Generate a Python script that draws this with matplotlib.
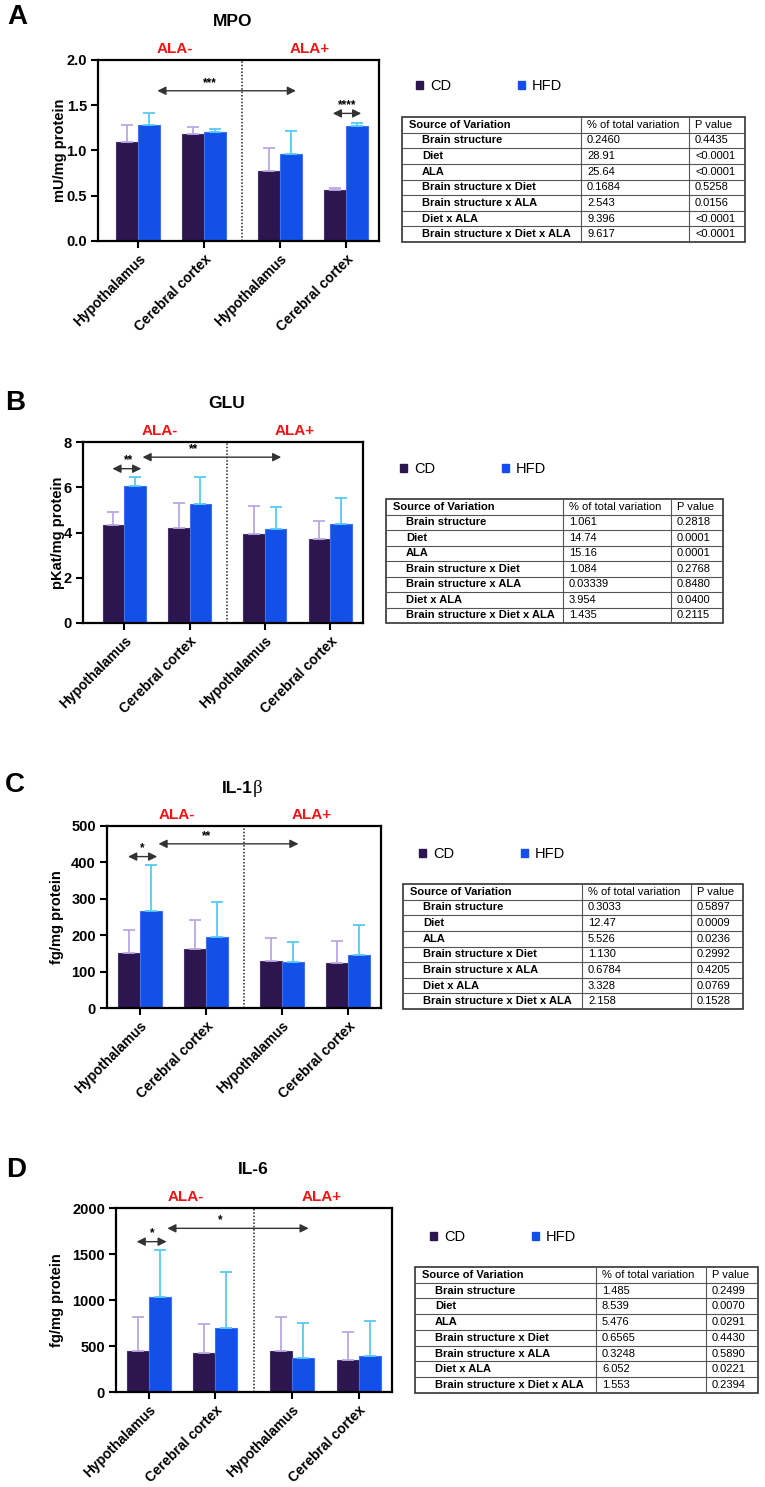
import numpy as np
import matplotlib
matplotlib.use('Agg')
import matplotlib.pyplot as plt
import matplotlib.transforms as mtrans
from matplotlib.patches import Patch, Rectangle

plt.rcParams['font.family'] = ['Liberation Sans', 'DejaVu Sans']

# ---------------- data ----------------
regions = ['Hypothalamus', 'Cerebral cortex', 'Hypothalamus', 'Cerebral cortex']
groups = ['ALA-', 'ALA+']
series = ['CD', 'HFD']

mpo_cd = [1.09, 1.18, 0.77, 0.56]
mpo_cd_sd = [0.19, 0.08, 0.26, 0.03]
mpo_hfd = [1.28, 1.20, 0.96, 1.27]
mpo_hfd_sd = [0.135, 0.04, 0.255, 0.03]

glu_cd = [4.35, 4.18, 3.95, 3.71]
glu_cd_sd = [0.57, 1.14, 1.23, 0.80]
glu_hfd = [6.04, 5.24, 4.15, 4.39]
glu_hfd_sd = [0.40, 1.23, 0.97, 1.15]

il1b_cd = [151, 163, 128, 125]
il1b_cd_sd = [64, 80, 64, 59]
il1b_hfd = [266, 196, 126, 146]
il1b_hfd_sd = [128, 96, 54, 82]

il6_cd = [446, 428, 442, 344]
il6_cd_sd = [373, 311, 370, 312]
il6_hfd = [1036, 692, 373, 395]
il6_hfd_sd = [504, 609, 373, 380]

# significance brackets: (x start, x end, y, label, label x)
mpo_sig = [(0.29, 2.39, 1.66, '***', 1.08), (2.95, 3.38, 1.41, '****', 3.17)]
glu_sig = [(-0.18, 0.26, 6.82, '**', 0.06), (0.28, 2.40, 7.33, '**', 1.06)]
il1b_sig = [(-0.18, 0.26, 416, '*', 0.04), (0.28, 2.40, 451, '**', 1.01)]
il6_sig = [(-0.18, 0.27, 1634, '*', 0.05), (0.28, 2.40, 1779, '*', 1.07)]

table_header = ['Source of Variation', '% of total variation', 'P value']
sources = ['Brain structure', 'Diet', 'ALA', 'Brain structure x Diet',
           'Brain structure x ALA', 'Diet x ALA', 'Brain structure x Diet x ALA']
mpo_pct = ['0.2460', '28.91', '25.64', '0.1684', '2.543', '9.396', '9.617']
mpo_p = ['0.4435', '<0.0001', '<0.0001', '0.5258', '0.0156', '<0.0001', '<0.0001']
glu_pct = ['1.061', '14.74', '15.16', '1.084', '0.03339', '3.954', '1.435']
glu_p = ['0.2818', '0.0001', '0.0001', '0.2768', '0.8480', '0.0400', '0.2115']
il1b_pct = ['0.3033', '12.47', '5.526', '1.130', '0.6784', '3.328', '2.158']
il1b_p = ['0.5897', '0.0009', '0.0236', '0.2992', '0.4205', '0.0769', '0.1528']
il6_pct = ['1.485', '8.539', '5.476', '0.6565', '0.3248', '6.052', '1.553']
il6_p = ['0.2499', '0.0070', '0.0291', '0.4430', '0.5890', '0.0221', '0.2394']

# ---------------- style / layout ----------------
W, H = 765, 1487
CD_C, CD_EDGE, CD_ERR = '#2D1650', '#45306e', '#B9A9E0'
HFD_C, HFD_EDGE, HFD_ERR = '#1250E8', '#3b72f2', '#55CCF2'

positions = np.arange(4) + np.array([0, 0, 0.15, 0.15])
bw = 0.33
group_x = [0.55, 2.6]

fig = plt.figure(figsize=(W / 100, H / 100), dpi=100)


def px_axes(l, t, r, b):
    return fig.add_axes([l / W, 1 - b / H, (r - l) / W, (b - t) / H])


def panel(rect, xleft, ymax, yticks, yfmt, cd, cd_sd, hfd, hfd_sd, ylabel, ylabel_x, sig):
    l, t, r, b = rect
    ax = px_axes(l, t, r, b)
    ax.bar(positions - bw / 2, cd, bw, color=CD_C, edgecolor=CD_EDGE, lw=0.8, zorder=2)
    ax.bar(positions + bw / 2, hfd, bw, color=HFD_C, edgecolor=HFD_EDGE, lw=0.8, zorder=2)
    ax.errorbar(positions - bw / 2, cd, yerr=[np.zeros(4), cd_sd], fmt='none',
                ecolor=CD_ERR, elinewidth=1.3, capsize=4, capthick=1.3, zorder=3)
    ax.errorbar(positions + bw / 2, hfd, yerr=[np.zeros(4), hfd_sd], fmt='none',
                ecolor=HFD_ERR, elinewidth=1.3, capsize=4, capthick=1.3, zorder=3)
    ax.set_xlim(xleft, 3.65)
    ax.set_ylim(0, ymax)
    ax.axvline((positions[1] + positions[2]) / 2, color='#222222', ls=(0, (1, 1.2)), lw=1.1, zorder=1)
    ax.set_xticks(positions)
    ax.set_xticklabels(regions, rotation=45, ha='right', rotation_mode='anchor',
                       fontweight='bold', fontsize=10)
    ax.set_yticks(yticks)
    ax.set_yticklabels([yfmt.format(v) for v in yticks], fontweight='bold', fontsize=10.5)
    for s in ax.spines.values():
        s.set_linewidth(1.6)
    ax.tick_params(axis='both', direction='out', length=5, width=1.5, pad=3)
    trans = mtrans.blended_transform_factory(ax.transData, ax.transAxes)
    for gx, g in zip(group_x, groups):
        ax.text(gx, 1 + 11 / (b - t), g, transform=trans, color='#f01414', ha='center',
                va='center', fontweight='bold', fontsize=11)
    for x0, x1, y, lab, lx in sig:
        ax.annotate('', xy=(x1, y), xytext=(x0, y),
                    arrowprops=dict(arrowstyle='<|-|>,head_length=0.5,head_width=0.25',
                                    color='#333333', lw=1.0, shrinkA=0, shrinkB=0))
        ax.annotate(lab, xy=(lx, y), xytext=(0, 1.5), textcoords='offset points',
                    ha='center', va='bottom', fontsize=8.5, fontweight='bold')
    fig.text(ylabel_x / W, 1 - (t + b) / 2 / H, ylabel, rotation=90, ha='center',
             va='center', fontweight='bold', fontsize=10.5)
    return ax


def legend(x, y):
    handles = [Patch(color=CD_C, label=series[0]), Patch(color=HFD_C, label=series[1])]
    fig.legend(handles=handles, loc='center left', bbox_to_anchor=(x / W, 1 - y / H),
               ncol=2, frameon=False, fontsize=10.5, handlelength=0.45, handleheight=0.45,
               handletextpad=0.5, columnspacing=4.6, borderpad=0, borderaxespad=0)


def table(rect, c1, c2, pct, pv):
    l, t, r, b = rect
    tax = px_axes(l, t, r, b)
    tax.set_xlim(l, r)
    tax.set_ylim(b, t)
    tax.axis('off')
    n = len(sources) + 1
    rh = (b - t) / n
    tax.add_patch(Rectangle((l, t), r - l, b - t, fill=False, ec='#333333', lw=1.2, clip_on=False))
    for i in range(1, n):
        tax.plot([l, r], [t + i * rh] * 2, color='#555555', lw=0.8, clip_on=False)
    for cx in (c1, c2):
        tax.plot([cx, cx], [t, b], color='#555555', lw=0.8, clip_on=False)
    fs = 8
    yc = t + rh / 2
    tax.text(l + 7, yc, table_header[0], ha='left', va='center', fontsize=fs, fontweight='bold')
    tax.text(c1 + 6, yc, table_header[1], ha='left', va='center', fontsize=fs)
    tax.text(c2 + 6, yc, table_header[2], ha='left', va='center', fontsize=fs)
    for i, (s, a, p) in enumerate(zip(sources, pct, pv)):
        yc = t + (i + 1.5) * rh
        tax.text(l + 20, yc, s, ha='left', va='center', fontsize=fs, fontweight='bold')
        tax.text(c1 + 6, yc, a, ha='left', va='center', fontsize=fs)
        tax.text(c2 + 6, yc, p, ha='left', va='center', fontsize=fs)


def title(x, y, s):
    fig.text(x / W, 1 - y / H, s, ha='center', va='center', fontweight='bold', fontsize=12.5)


def letter(x, y, s):
    fig.text(x / W, 1 - y / H, s, ha='center', va='center', fontweight='bold', fontsize=20)


# ---------------- panel A ----------------
letter(17, 17, 'A')
title(233, 22, 'MPO')
panel((98, 60, 379, 241), -0.61, 2.0, [0, 0.5, 1.0, 1.5, 2.0], '{:.1f}',
      mpo_cd, mpo_cd_sd, mpo_hfd, mpo_hfd_sd, 'mU/mg protein', 60, mpo_sig)
legend(416, 86)
table((402, 117, 745, 242), 581, 689, mpo_pct, mpo_p)

# ---------------- panel B ----------------
letter(15, 403, 'B')
title(227, 403, 'GLU')
panel((83, 442, 363, 623), -0.63, 8, [0, 2, 4, 6, 8], '{:d}',
      glu_cd, glu_cd_sd, glu_hfd, glu_hfd_sd, 'pKat/mg protein', 58, glu_sig)
legend(400, 469)
table((386, 499, 723, 623), 563, 671, glu_pct, glu_p)

# ---------------- panel C ----------------
letter(15, 785, 'C')
fig.text(253 / W, 1 - 788 / H, 'IL-1', ha='right', va='center', fontweight='bold', fontsize=12.5)
fig.text(253 / W, 1 - 788 / H, 'β', ha='left', va='center', fontsize=13.5,
         family=['Liberation Serif', 'DejaVu Serif'])
panel((107, 826, 381, 1008), -0.5, 500, [0, 100, 200, 300, 400, 500], '{:d}',
      il1b_cd, il1b_cd_sd, il1b_hfd, il1b_hfd_sd, 'fg/mg protein', 57, il1b_sig)
legend(419, 854)
table((403, 884, 743, 1009), 582, 691, il1b_pct, il1b_p)

# ---------------- panel D ----------------
letter(16, 1170, 'D')
title(253, 1170, 'IL-6')
panel((116, 1208, 392, 1392), -0.49, 2000, [0, 500, 1000, 1500, 2000], '{:d}',
      il6_cd, il6_cd_sd, il6_hfd, il6_hfd_sd, 'fg/mg protein', 57, il6_sig)
legend(430, 1237)
table((415, 1267, 758, 1393), 596, 706, il6_pct, il6_p)

fig.savefig('out.png', dpi=100)
